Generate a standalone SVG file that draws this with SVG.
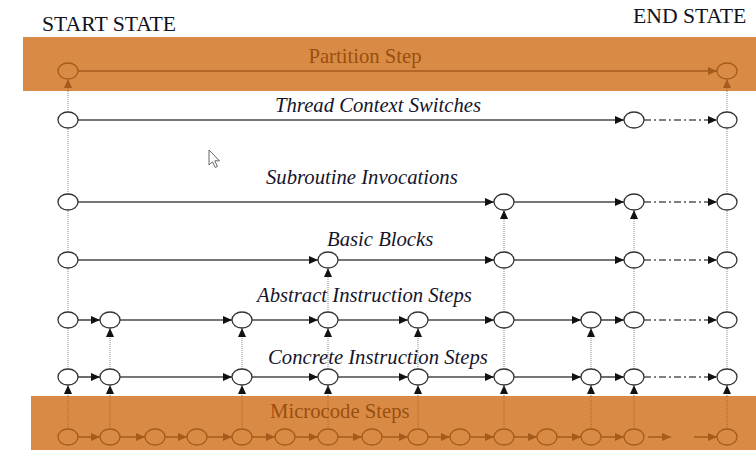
<svg xmlns="http://www.w3.org/2000/svg" width="756" height="452" viewBox="0 0 756 452">
<style>
.band{fill:#D98B45}
.ttl{font-family:"Liberation Serif","Times New Roman",serif;font-size:21.7px;fill:#111122}
.lbl{font-family:"Liberation Serif","Times New Roman",serif;font-size:20.7px;font-style:italic;fill:#15152a}
.blbl{font-family:"Liberation Serif","Times New Roman",serif;font-size:20.7px;fill:#9A4F10}
.n{fill:#fff;stroke:#333;stroke-width:1.3}
.nb{fill:none;stroke:#A55B1C;stroke-width:1.3}
.h{stroke:#484848;stroke-width:1.6;fill:none}
.hd{stroke:#555;stroke-width:1.4;fill:none;stroke-dasharray:7 3 2 3}
.hb{stroke:#A55B1C;stroke-width:1.5;fill:none}
.v{stroke:#888;stroke-width:1;fill:none;stroke-dasharray:1 1}
.vb{stroke:#A8642A;stroke-width:1;fill:none;stroke-dasharray:1 1}
</style>
<defs>
<marker id="ak" markerUnits="userSpaceOnUse" markerWidth="9" markerHeight="8" refX="9" refY="4" orient="auto"><path d="M0,0 L9,4 L0,8 z" fill="#111"/></marker>
<marker id="ab" markerUnits="userSpaceOnUse" markerWidth="9" markerHeight="8" refX="9" refY="4" orient="auto"><path d="M0,0 L9,4 L0,8 z" fill="#A55B1C"/></marker>
</defs>
<rect class="band" x="23" y="37" width="733" height="54"/>
<rect class="band" x="31" y="396" width="725" height="54"/>
<text class="ttl" x="42" y="30.5">START STATE</text>
<text class="ttl" x="633" y="22.5">END STATE</text>
<text class="blbl" x="365" y="63" text-anchor="middle">Partition Step</text>
<text class="lbl" x="275" y="112">Thread Context Switches</text>
<text class="lbl" x="266" y="184">Subroutine Invocations</text>
<text class="lbl" x="327" y="246">Basic Blocks</text>
<text class="lbl" x="257" y="302">Abstract Instruction Steps</text>
<text class="lbl" x="268" y="364">Concrete Instruction Steps</text>
<text class="blbl" x="270" y="418">Microcode Steps</text>
<path d="M209,150 L209,165 L212.5,161.8 L215.2,167.5 L217.4,166.5 L214.8,160.8 L219.5,160.8 Z" fill="#fff" stroke="#666" stroke-width="1"/>
<g id="connectors">
<line class="hb" x1="78" y1="71" x2="717" y2="71" marker-end="url(#ab)"/>
<line class="h" x1="78" y1="120" x2="624" y2="120" marker-end="url(#ak)"/>
<line class="hd" x1="644" y1="120" x2="717" y2="120" marker-end="url(#ak)"/>
<line class="h" x1="78" y1="202" x2="494" y2="202" marker-end="url(#ak)"/>
<line class="h" x1="514" y1="202" x2="624" y2="202" marker-end="url(#ak)"/>
<line class="hd" x1="644" y1="202" x2="717" y2="202" marker-end="url(#ak)"/>
<line class="h" x1="78" y1="260" x2="318" y2="260" marker-end="url(#ak)"/>
<line class="h" x1="338" y1="260" x2="494" y2="260" marker-end="url(#ak)"/>
<line class="h" x1="514" y1="260" x2="624" y2="260" marker-end="url(#ak)"/>
<line class="hd" x1="644" y1="260" x2="717" y2="260" marker-end="url(#ak)"/>
<line class="h" x1="78" y1="320" x2="100" y2="320" marker-end="url(#ak)"/>
<line class="h" x1="120" y1="320" x2="232" y2="320" marker-end="url(#ak)"/>
<line class="h" x1="252" y1="320" x2="318" y2="320" marker-end="url(#ak)"/>
<line class="h" x1="338" y1="320" x2="408" y2="320" marker-end="url(#ak)"/>
<line class="h" x1="428" y1="320" x2="494" y2="320" marker-end="url(#ak)"/>
<line class="h" x1="514" y1="320" x2="581" y2="320" marker-end="url(#ak)"/>
<line class="h" x1="601" y1="320" x2="624" y2="320" marker-end="url(#ak)"/>
<line class="hd" x1="644" y1="320" x2="717" y2="320" marker-end="url(#ak)"/>
<line class="h" x1="78" y1="377" x2="100" y2="377" marker-end="url(#ak)"/>
<line class="h" x1="120" y1="377" x2="232" y2="377" marker-end="url(#ak)"/>
<line class="h" x1="252" y1="377" x2="318" y2="377" marker-end="url(#ak)"/>
<line class="h" x1="338" y1="377" x2="408" y2="377" marker-end="url(#ak)"/>
<line class="h" x1="428" y1="377" x2="494" y2="377" marker-end="url(#ak)"/>
<line class="h" x1="514" y1="377" x2="581" y2="377" marker-end="url(#ak)"/>
<line class="h" x1="601" y1="377" x2="624" y2="377" marker-end="url(#ak)"/>
<line class="hd" x1="644" y1="377" x2="717" y2="377" marker-end="url(#ak)"/>
<line class="hb" x1="78" y1="437" x2="100" y2="437" marker-end="url(#ab)"/>
<line class="hb" x1="120" y1="437" x2="145" y2="437" marker-end="url(#ab)"/>
<line class="hb" x1="165" y1="437" x2="187" y2="437" marker-end="url(#ab)"/>
<line class="hb" x1="207" y1="437" x2="232" y2="437" marker-end="url(#ab)"/>
<line class="hb" x1="252" y1="437" x2="275" y2="437" marker-end="url(#ab)"/>
<line class="hb" x1="295" y1="437" x2="318" y2="437" marker-end="url(#ab)"/>
<line class="hb" x1="338" y1="437" x2="362" y2="437" marker-end="url(#ab)"/>
<line class="hb" x1="382" y1="437" x2="408" y2="437" marker-end="url(#ab)"/>
<line class="hb" x1="428" y1="437" x2="450" y2="437" marker-end="url(#ab)"/>
<line class="hb" x1="470" y1="437" x2="494" y2="437" marker-end="url(#ab)"/>
<line class="hb" x1="514" y1="437" x2="537" y2="437" marker-end="url(#ab)"/>
<line class="hb" x1="557" y1="437" x2="581" y2="437" marker-end="url(#ab)"/>
<line class="hb" x1="601" y1="437" x2="624" y2="437" marker-end="url(#ab)"/>
<line class="hb" x1="648" y1="437" x2="671" y2="437" marker-end="url(#ab)"/>
<line class="hb" x1="694" y1="437" x2="717" y2="437" marker-end="url(#ab)"/>
<line class="v" x1="68" y1="112" x2="68" y2="91"/>
<line class="vb" x1="68" y1="91" x2="68" y2="79" marker-end="url(#ab)"/>
<line class="v" x1="727" y1="112" x2="727" y2="91"/>
<line class="vb" x1="727" y1="91" x2="727" y2="79" marker-end="url(#ab)"/>
<line class="v" x1="68" y1="194" x2="68" y2="128"/>
<line class="v" x1="727" y1="194" x2="727" y2="128"/>
<line class="v" x1="68" y1="252" x2="68" y2="210"/>
<line class="v" x1="727" y1="252" x2="727" y2="210"/>
<line class="v" x1="504" y1="252" x2="504" y2="210" marker-end="url(#ak)"/>
<line class="v" x1="634" y1="252" x2="634" y2="210" marker-end="url(#ak)"/>
<line class="v" x1="68" y1="312" x2="68" y2="268"/>
<line class="v" x1="727" y1="312" x2="727" y2="268"/>
<line class="v" x1="504" y1="312" x2="504" y2="268"/>
<line class="v" x1="634" y1="312" x2="634" y2="268"/>
<line class="v" x1="328" y1="312" x2="328" y2="268" marker-end="url(#ak)"/>
<line class="v" x1="68" y1="369" x2="68" y2="328"/>
<line class="v" x1="504" y1="369" x2="504" y2="328"/>
<line class="v" x1="634" y1="369" x2="634" y2="328"/>
<line class="v" x1="727" y1="369" x2="727" y2="328"/>
<line class="v" x1="110" y1="369" x2="110" y2="328" marker-end="url(#ak)"/>
<line class="v" x1="242" y1="369" x2="242" y2="328" marker-end="url(#ak)"/>
<line class="v" x1="328" y1="369" x2="328" y2="328" marker-end="url(#ak)"/>
<line class="v" x1="418" y1="369" x2="418" y2="328" marker-end="url(#ak)"/>
<line class="v" x1="591" y1="369" x2="591" y2="328" marker-end="url(#ak)"/>
<line class="vb" x1="68" y1="429" x2="68" y2="396"/><line class="v" x1="68" y1="396" x2="68" y2="385" marker-end="url(#ak)"/>
<line class="vb" x1="110" y1="429" x2="110" y2="396"/><line class="v" x1="110" y1="396" x2="110" y2="385" marker-end="url(#ak)"/>
<line class="vb" x1="242" y1="429" x2="242" y2="396"/><line class="v" x1="242" y1="396" x2="242" y2="385" marker-end="url(#ak)"/>
<line class="vb" x1="328" y1="429" x2="328" y2="396"/><line class="v" x1="328" y1="396" x2="328" y2="385" marker-end="url(#ak)"/>
<line class="vb" x1="418" y1="429" x2="418" y2="396"/><line class="v" x1="418" y1="396" x2="418" y2="385" marker-end="url(#ak)"/>
<line class="vb" x1="504" y1="429" x2="504" y2="396"/><line class="v" x1="504" y1="396" x2="504" y2="385" marker-end="url(#ak)"/>
<line class="vb" x1="591" y1="429" x2="591" y2="396"/><line class="v" x1="591" y1="396" x2="591" y2="385" marker-end="url(#ak)"/>
<line class="vb" x1="634" y1="429" x2="634" y2="396"/><line class="v" x1="634" y1="396" x2="634" y2="385" marker-end="url(#ak)"/>
<line class="vb" x1="727" y1="429" x2="727" y2="396"/><line class="v" x1="727" y1="396" x2="727" y2="385" marker-end="url(#ak)"/>
</g>
<g id="p0"><ellipse class="nb" cx="68" cy="71" rx="10" ry="8"/></g>
<g id="p1"><ellipse class="nb" cx="727" cy="71" rx="10" ry="8"/></g>
<g id="t0"><ellipse class="n" cx="68" cy="120" rx="10" ry="8"/></g>
<g id="t1"><ellipse class="n" cx="634" cy="120" rx="10" ry="8"/></g>
<g id="t2"><ellipse class="n" cx="727" cy="120" rx="10" ry="8"/></g>
<g id="s0"><ellipse class="n" cx="68" cy="202" rx="10" ry="8"/></g>
<g id="s1"><ellipse class="n" cx="504" cy="202" rx="10" ry="8"/></g>
<g id="s2"><ellipse class="n" cx="634" cy="202" rx="10" ry="8"/></g>
<g id="s3"><ellipse class="n" cx="727" cy="202" rx="10" ry="8"/></g>
<g id="b0"><ellipse class="n" cx="68" cy="260" rx="10" ry="8"/></g>
<g id="b1"><ellipse class="n" cx="328" cy="260" rx="10" ry="8"/></g>
<g id="b2"><ellipse class="n" cx="504" cy="260" rx="10" ry="8"/></g>
<g id="b3"><ellipse class="n" cx="634" cy="260" rx="10" ry="8"/></g>
<g id="b4"><ellipse class="n" cx="727" cy="260" rx="10" ry="8"/></g>
<g id="a0"><ellipse class="n" cx="68" cy="320" rx="10" ry="8"/></g>
<g id="a1"><ellipse class="n" cx="110" cy="320" rx="10" ry="8"/></g>
<g id="a2"><ellipse class="n" cx="242" cy="320" rx="10" ry="8"/></g>
<g id="a3"><ellipse class="n" cx="328" cy="320" rx="10" ry="8"/></g>
<g id="a4"><ellipse class="n" cx="418" cy="320" rx="10" ry="8"/></g>
<g id="a5"><ellipse class="n" cx="504" cy="320" rx="10" ry="8"/></g>
<g id="a6"><ellipse class="n" cx="591" cy="320" rx="10" ry="8"/></g>
<g id="a7"><ellipse class="n" cx="634" cy="320" rx="10" ry="8"/></g>
<g id="a8"><ellipse class="n" cx="727" cy="320" rx="10" ry="8"/></g>
<g id="c0"><ellipse class="n" cx="68" cy="377" rx="10" ry="8"/></g>
<g id="c1"><ellipse class="n" cx="110" cy="377" rx="10" ry="8"/></g>
<g id="c2"><ellipse class="n" cx="242" cy="377" rx="10" ry="8"/></g>
<g id="c3"><ellipse class="n" cx="328" cy="377" rx="10" ry="8"/></g>
<g id="c4"><ellipse class="n" cx="418" cy="377" rx="10" ry="8"/></g>
<g id="c5"><ellipse class="n" cx="504" cy="377" rx="10" ry="8"/></g>
<g id="c6"><ellipse class="n" cx="591" cy="377" rx="10" ry="8"/></g>
<g id="c7"><ellipse class="n" cx="634" cy="377" rx="10" ry="8"/></g>
<g id="c8"><ellipse class="n" cx="727" cy="377" rx="10" ry="8"/></g>
<g id="m0"><ellipse class="nb" cx="68" cy="437" rx="10" ry="8"/></g>
<g id="m1"><ellipse class="nb" cx="110" cy="437" rx="10" ry="8"/></g>
<g id="m2"><ellipse class="nb" cx="155" cy="437" rx="10" ry="8"/></g>
<g id="m3"><ellipse class="nb" cx="197" cy="437" rx="10" ry="8"/></g>
<g id="m4"><ellipse class="nb" cx="242" cy="437" rx="10" ry="8"/></g>
<g id="m5"><ellipse class="nb" cx="285" cy="437" rx="10" ry="8"/></g>
<g id="m6"><ellipse class="nb" cx="328" cy="437" rx="10" ry="8"/></g>
<g id="m7"><ellipse class="nb" cx="372" cy="437" rx="10" ry="8"/></g>
<g id="m8"><ellipse class="nb" cx="418" cy="437" rx="10" ry="8"/></g>
<g id="m9"><ellipse class="nb" cx="460" cy="437" rx="10" ry="8"/></g>
<g id="m10"><ellipse class="nb" cx="504" cy="437" rx="10" ry="8"/></g>
<g id="m11"><ellipse class="nb" cx="547" cy="437" rx="10" ry="8"/></g>
<g id="m12"><ellipse class="nb" cx="591" cy="437" rx="10" ry="8"/></g>
<g id="m13"><ellipse class="nb" cx="634" cy="437" rx="10" ry="8"/></g>
<g id="m14"><ellipse class="nb" cx="727" cy="437" rx="10" ry="8"/></g>
</svg>
